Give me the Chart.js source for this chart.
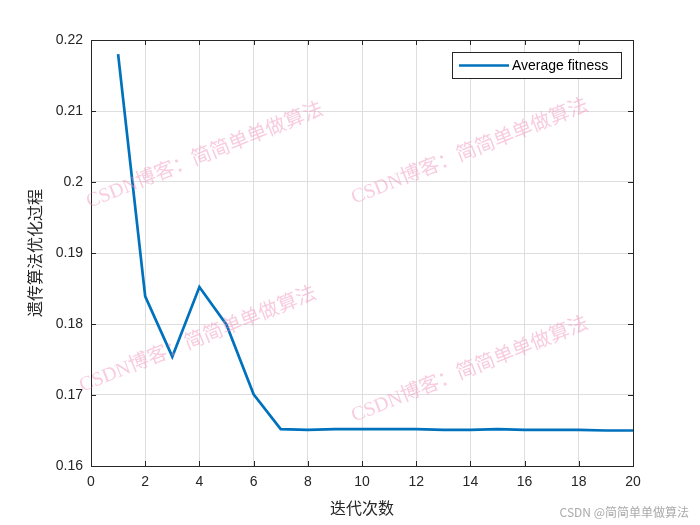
<!DOCTYPE html>
<html>
<head>
<meta charset="utf-8">
<script src="https://cdn.jsdelivr.net/npm/chart.js@4.4.0/dist/chart.umd.min.js"></script>
<style>
  html, body { margin: 0; padding: 0; background: #fff; }
  #wrap { width: 700px; height: 525px; position: relative; }
</style>
</head>
<body>
<div id="wrap"><canvas id="myChart" width="700" height="525"></canvas></div>
<script>
const iterations = [1, 2, 3, 4, 5, 6, 7, 8, 9, 10, 11, 12, 13, 14, 15, 16, 17, 18, 19, 20];
const avgFitness = [0.2180, 0.1839, 0.1754, 0.1852, 0.1799, 0.1701, 0.1652, 0.1651, 0.1652, 0.1652,
  0.1652, 0.1652, 0.1651, 0.1651, 0.1652, 0.1651, 0.1651, 0.1651, 0.1650, 0.1650];
const xTicks = [0, 2, 4, 6, 8, 10, 12, 14, 16, 18, 20];
const yTicks = [0.16, 0.17, 0.18, 0.19, 0.2, 0.21, 0.22];
const watermark = "CSDN博客：简简单单做算法";

const latin = "'Liberation Sans', Arial, sans-serif";
const cjk = "'Noto Sans CJK SC', sans-serif";

// watermark + inside legend + box, MATLAB style
const decorPlugin = {
  id: "decor",
  afterDatasetsDraw(chart) {
    const ctx = chart.ctx;
    const a = chart.chartArea;
    ctx.save();
    ctx.strokeStyle = "#262626";
    ctx.lineWidth = 1;
    ctx.strokeRect(a.left + 0.5, a.top + 0.5, a.right - a.left, a.bottom - a.top);

    // inward ticks
    const xs = chart.scales.x, ys = chart.scales.y;
    ctx.beginPath();
    xTicks.forEach(v => {
      const px = Math.round(xs.getPixelForValue(v)) + 0.5;
      ctx.moveTo(px, a.bottom); ctx.lineTo(px, a.bottom - 5);
      ctx.moveTo(px, a.top); ctx.lineTo(px, a.top + 5);
    });
    yTicks.forEach(v => {
      const py = Math.round(ys.getPixelForValue(v)) + 0.5;
      ctx.moveTo(a.left, py); ctx.lineTo(a.left + 5, py);
      ctx.moveTo(a.right, py); ctx.lineTo(a.right - 5, py);
    });
    ctx.stroke();

    // legend
    const ds = chart.data.datasets[0];
    const lx = 452, ly = 52, lw = 169, lh = 26;
    ctx.fillStyle = "#fff";
    ctx.fillRect(lx, ly, lw, lh);
    ctx.strokeStyle = "#262626";
    ctx.strokeRect(lx + 0.5, ly + 0.5, lw, lh);
    ctx.strokeStyle = ds.borderColor;
    ctx.lineWidth = 2.5;
    ctx.beginPath();
    ctx.moveTo(lx + 7, ly + 13.5); ctx.lineTo(lx + 57, ly + 13.5);
    ctx.stroke();
    ctx.fillStyle = "#000";
    ctx.font = "14px " + latin;
    ctx.textBaseline = "middle";
    ctx.fillText(ds.label, lx + 60, ly + 14);

    // watermark
    ctx.font = "20px 'Liberation Serif', " + cjk;
    ctx.fillStyle = "rgba(240, 140, 185, 0.45)";
    ctx.textAlign = "center";
    [[205, 156], [470, 152], [198, 340], [470, 370]].forEach(p => {
      ctx.save();
      ctx.translate(p[0], p[1]);
      ctx.rotate(-0.38);
      ctx.fillText(watermark, 0, 0);
      ctx.restore();
    });

    ctx.font = "12px " + cjk;
    ctx.fillStyle = "#aaaaaa";
    ctx.textAlign = "right";
    ctx.fillText("CSDN @简简单单做算法", 689, 512);
    ctx.restore();
  }
};

const config = {
  type: "line",
  data: {
    datasets: [{
      label: "Average fitness",
      data: iterations.map((x, i) => ({ x: x, y: avgFitness[i] })),
      borderColor: "#0072BD",
      borderWidth: 2.7,
      pointRadius: 0,
      tension: 0,
      fill: false,
    }],
  },
  options: {
    responsive: false,
    animation: false,
    layout: { padding: { left: 0, right: 67, top: 40, bottom: 0 } },
    plugins: {
      legend: { display: false },
      tooltip: { enabled: false },
    },
    scales: {
      x: {
        type: "linear",
        min: 0, max: 20,
        afterBuildTicks: s => { s.ticks = xTicks.map(v => ({ value: v })); },
        grid: { color: "#dedede", tickLength: 0, drawTicks: false },
        border: { display: false },
        ticks: { color: "#262626", font: { size: 14, family: latin }, padding: 8, maxRotation: 0 },
        title: { display: true, text: "迭代次数", color: "#262626", font: { size: 16, family: cjk }, padding: { top: 0, bottom: 7 } },
        afterFit: s => { s.height = 59; },
      },
      y: {
        min: 0.16, max: 0.22,
        afterBuildTicks: s => { s.ticks = yTicks.map(v => ({ value: v })); },
        grid: { color: "#dedede", tickLength: 0, drawTicks: false },
        border: { display: false },
        ticks: { color: "#262626", font: { size: 14, family: latin }, padding: 8, callback: v => String(+v.toFixed(2)) },
        title: { display: true, text: "遗传算法优化过程", color: "#262626", font: { size: 16, family: cjk }, padding: { top: 25, bottom: 0 } },
        afterFit: s => { s.width = 91; },
      },
    },
  },
  plugins: [decorPlugin],
};

const myChart = new Chart(document.getElementById("myChart"), config);
</script>
</body>
</html>
